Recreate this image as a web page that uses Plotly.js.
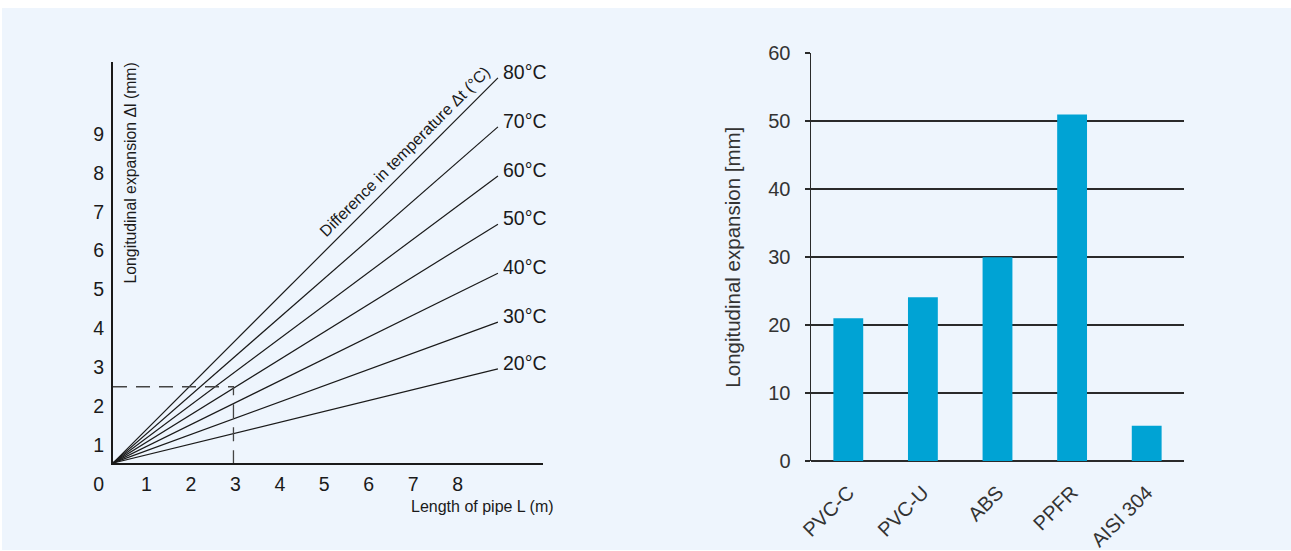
<!DOCTYPE html>
<html><head><meta charset="utf-8">
<script src="https://cdn.plot.ly/plotly-3.0.1.min.js"></script>
<style>html,body{margin:0;padding:0;background:#fff}#chart{width:1291px;height:551px}</style>
</head><body><div id="chart"></div>
<script>
// Left chart: longitudinal expansion fan (values in the chart's own axis frame)
const tempLabels = ["20°C","30°C","40°C","50°C","60°C","70°C","80°C"];
const pipeLength = [0, 8.66];                 // m, start and end of each line
const expansionAtEnd = [2.42, 3.62, 4.88, 6.14, 7.38, 8.64, 9.90]; // mm at end
const exampleLength = 2.71;                   // dashed reading guide
const exampleExpansion = 1.96;
const xTicksLeft = [1,2,3,4,5,6,7,8];
const yTicksLeft = [0,1,2,3,4,5,6,7,8,9];

// Right chart: bar comparison
const materials = ["PVC-C","PVC-U","ABS","PPFR","AISI 304"];
const materialExpansion = [21, 24.1, 30, 51, 5.2];

const W = 1291, H = 551;
const px = v => v / W, py = v => 1 - v / H;
const FONT = "Liberation Sans, Arial, Helvetica, sans-serif";

const traces = [];
tempLabels.forEach((t, i) => {
  traces.push({
    type: "scatter", mode: "lines", xaxis: "x", yaxis: "y",
    x: pipeLength, y: [0, expansionAtEnd[i]],
    line: {color: "#1a1a1a", width: 1.2}, hoverinfo: "skip", showlegend: false
  });
});
// dashed guide
traces.push({
  type: "scatter", mode: "lines", xaxis: "x", yaxis: "y",
  x: [0, exampleLength, exampleLength], y: [exampleExpansion, exampleExpansion, 0],
  line: {color: "#444", width: 1.3, dash: "14px,9px"}, showlegend: false, hoverinfo: "skip"
});
traces.push({
  type: "bar", xaxis: "x2", yaxis: "y2",
  x: materials, y: materialExpansion, width: 0.4,
  marker: {color: "#00a3d4"}, showlegend: false
});

const annotations = tempLabels.map((t, i) => ({
  xref: "x", yref: "y", x: pipeLength[1], y: expansionAtEnd[i],
  text: t, showarrow: false, xanchor: "left", yanchor: "middle",
  xshift: 3, yshift: 6, font: {family: FONT, size: 19.5, color: "#1a1a1a"}
}));
// rotated label along the 80°C line
const fr = 0.755;
annotations.push({
  xref: "x", yref: "y", x: pipeLength[1] * fr, y: expansionAtEnd[6] * fr,
  text: "Difference in temperature Δt (°C)", showarrow: false,
  textangle: -45, xanchor: "center", yanchor: "middle", xshift: 1, yshift: 21,
  font: {family: FONT, size: 16, color: "#1a1a1a"}
});
annotations.push({
  xref: "paper", yref: "paper", x: px(130), y: py(61),
  text: "Longitudinal expansion Δl (mm)", showarrow: false, textangle: -90,
  xanchor: "center", yanchor: "top", font: {family: FONT, size: 15.8, color: "#1a1a1a"}
});
annotations.push({
  xref: "paper", yref: "paper", x: px(556), y: py(506),
  text: "Length of pipe L (m)", showarrow: false,
  xanchor: "right", yanchor: "middle", font: {family: FONT, size: 16, color: "#1a1a1a"}
});

const layout = {
  width: W, height: H, margin: {l: 0, r: 0, t: 0, b: 0},
  paper_bgcolor: "#ffffff", plot_bgcolor: "rgba(0,0,0,0)",
  font: {family: FONT},
  showlegend: false,
  shapes: [{type: "rect", xref: "paper", yref: "paper", x0: px(2), x1: 1, y0: py(550), y1: py(8),
            fillcolor: "#eef5fd", line: {width: 0}, layer: "below"}],
  xaxis: {
    domain: [px(113), px(543)], range: [0, (543 - 113) / 44.45], anchor: "y",
    showgrid: false, zeroline: false, showline: true, linecolor: "#1a1a1a", linewidth: 2,
    tickmode: "array", tickvals: xTicksLeft, ticks: "", ticklabelshift: -11, ticklabelstandoff: 3,
    tickfont: {family: FONT, size: 19.5, color: "#1a1a1a"}, fixedrange: true
  },
  yaxis: {
    domain: [py(463), py(62)], range: [0, (463 - 62) / 38.9], anchor: "x",
    showgrid: false, zeroline: false, showline: true, linecolor: "#1a1a1a", linewidth: 2,
    tickmode: "array", tickvals: yTicksLeft, ticks: "", ticklabelshift: 21, ticklabelstandoff: 3,
    tickfont: {family: FONT, size: 19.5, color: "#1a1a1a"}, fixedrange: true
  },
  xaxis2: {
    domain: [px(811), px(1184)], range: [-0.5, 4.5], anchor: "y2",
    showgrid: false, zeroline: false, showline: false, ticks: "",
    tickangle: -45, tickfont: {family: FONT, size: 20, color: "#333"}, ticklabelstandoff: 15, fixedrange: true
  },
  yaxis2: {
    domain: [py(461), py(53.3)], range: [0, 60], anchor: "x2",
    dtick: 10, showgrid: true, gridcolor: "#2a2a2a", gridwidth: 1.7,
    zeroline: true, zerolinecolor: "#2a2a2a", zerolinewidth: 1.7,
    showline: true, linecolor: "#2a2a2a", linewidth: 1.5,
    ticks: "outside", ticklen: 5, tickcolor: "#2a2a2a", tickwidth: 1.7, ticklabelstandoff: 10,
    tickfont: {family: FONT, size: 20, color: "#333"},
    title: {text: "Longitudinal expansion [mm]", font: {family: FONT, size: 20.5, color: "#333"}, standoff: 22},
    fixedrange: true
  },
  annotations: annotations
};
Plotly.newPlot("chart", traces, layout, {displayModeBar: false, staticPlot: true});
</script></body></html>
